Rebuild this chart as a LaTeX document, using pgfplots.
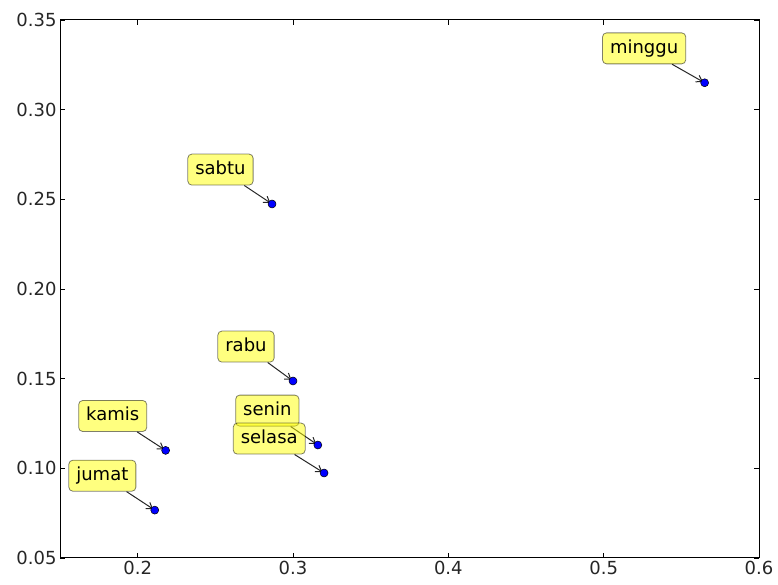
\documentclass[border=0pt]{standalone}
\usepackage{fontspec}
\setmainfont{DejaVu Sans}
\usepackage{pgfplots}
\pgfplotsset{compat=1.18}
\usetikzlibrary{arrows.meta}
\definecolor{boxfill}{RGB}{255,255,0}
\tikzset{lbl/.style={draw=black, draw opacity=0.5, fill=boxfill, fill opacity=0.5, text opacity=1,
  rounded corners=4pt, line width=0.8pt, inner xsep=7.5pt, inner ysep=6.5pt,
  text height=13.7pt, text depth=4.3pt, font=\fontsize{18}{21}\selectfont, anchor=south east}}
\newcommand{\lab}[3]{%
  \node[lbl] (n#3) at ([shift={(-18.5pt,18.5pt)}]axis cs:#1,#2) {#3};
  \draw[-{Straight Barb[length=5.5pt,width=7.5pt]}, black!85, line width=1pt, shorten >=2pt] (n#3) -- (axis cs:#1,#2);
}
\begin{document}
\begin{tikzpicture}
\begin{axis}[
  width=699pt, height=538pt, scale only axis,
  xmin=0.15, xmax=0.6, ymin=0.05, ymax=0.35,
  xtick={0.2,0.3,0.4,0.5,0.6},
  ytick={0.05,0.10,0.15,0.20,0.25,0.30,0.35},
  xticklabel style={/pgf/number format/.cd, fixed, fixed zerofill, precision=1},
  yticklabel style={/pgf/number format/.cd, fixed, fixed zerofill, precision=2},
  /pgf/number format/assume math mode=true,
  ticklabel style={font=\fontsize{18}{21}\selectfont, text=black!85},
  tick align=inside, major tick length=5pt,
  tick style={black, line width=0.8pt},
  axis line style={black, line width=1pt},
  clip=false,
]
\addplot[only marks, mark=*, mark size=4pt, mark options={fill=blue, draw=black, line width=0.5pt}]
  coordinates {(0.316,0.113) (0.320,0.0974) (0.300,0.1487) (0.218,0.110) (0.211,0.0767) (0.2865,0.2474) (0.565,0.315)};
\lab{0.316}{0.113}{senin}
\lab{0.320}{0.0974}{selasa}
\lab{0.300}{0.1487}{rabu}
\lab{0.218}{0.110}{kamis}
\lab{0.211}{0.0767}{jumat}
\lab{0.2865}{0.2474}{sabtu}
\lab{0.565}{0.315}{minggu}
\coordinate (bl) at (rel axis cs:0,0);
\coordinate (tr) at (rel axis cs:1,1);
\end{axis}
\pgfresetboundingbox
\path ([shift={(-60pt,-27pt)}]bl) rectangle ([shift={(19pt,20pt)}]tr);
\end{tikzpicture}
\end{document}
